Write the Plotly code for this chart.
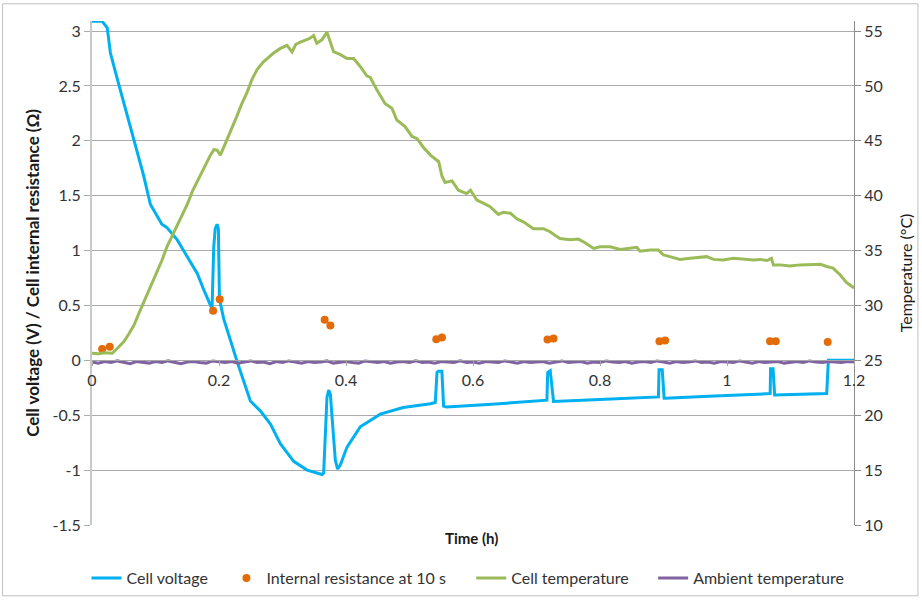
import plotly.graph_objects as go

# ---------------- data ----------------
volt_t = [0, 0.016, 0.024, 0.029, 0.040, 0.050, 0.065, 0.081, 0.092, 0.097,
          0.110, 0.118, 0.134, 0.150, 0.166, 0.1755, 0.189, 0.1917, 0.194, 0.197,
          0.199, 0.2007, 0.2074, 0.2285, 0.2494, 0.265, 0.281, 0.2966, 0.3176, 0.3387,
          0.3623, 0.3648, 0.3675, 0.370, 0.3727, 0.3754, 0.378, 0.3832, 0.3868, 0.391,
          0.4016, 0.4225, 0.454, 0.49, 0.533, 0.5406, 0.5433, 0.5453, 0.551, 0.5537,
          0.558, 0.63, 0.7164, 0.7176, 0.7216, 0.7255, 0.7268, 0.80, 0.892, 0.893,
          0.898, 0.901, 0.9026, 0.98, 1.068, 1.0686, 1.0725, 1.075, 1.0757, 1.157,
          1.1596, 1.2]
volt_v = [3.09, 3.09, 3.03, 2.80, 2.56, 2.35, 2.02, 1.69, 1.42, 1.37,
          1.24, 1.21, 1.10, 0.945, 0.79, 0.65, 0.47, 1.03, 1.20, 1.24,
          1.20, 0.56, 0.378, -0.01, -0.37, -0.46, -0.58, -0.76, -0.92, -1.00,
          -1.04, -1.026, -0.67, -0.34, -0.27, -0.31, -0.515, -0.91, -0.99, -0.954,
          -0.79, -0.605, -0.49, -0.43, -0.395, -0.384, -0.11, -0.10, -0.10, -0.417,
          -0.425, -0.40, -0.363, -0.11, -0.094, -0.363, -0.375, -0.357, -0.333, -0.085,
          -0.085, -0.345, -0.345, -0.325, -0.303, -0.076, -0.076, -0.315, -0.315, -0.303,
          0.0, 0.0]

res_t = [0.016, 0.028, 0.1907, 0.2011, 0.3664, 0.3754, 0.5422, 0.5511, 0.7173, 0.7268,
         0.8936, 0.9026, 1.0678, 1.0768, 1.1586]
res_v = [0.103, 0.124, 0.452, 0.557, 0.369, 0.318, 0.193, 0.208, 0.190, 0.199,
         0.175, 0.181, 0.175, 0.175, 0.168]

cell_t = [0, 0.010, 0.020, 0.032, 0.040, 0.050, 0.058, 0.066, 0.074, 0.0815,
          0.090, 0.1026, 0.110, 0.118, 0.126, 0.134, 0.142, 0.150, 0.158, 0.1656,
          0.176, 0.1865, 0.192, 0.197, 0.2022, 0.2075, 0.2128, 0.220, 0.2285, 0.236,
          0.244, 0.252, 0.26, 0.270, 0.278, 0.286, 0.296, 0.307, 0.315, 0.321,
          0.328, 0.336, 0.342, 0.349, 0.354, 0.362, 0.370, 0.3806, 0.390, 0.4016,
          0.412, 0.422, 0.433, 0.438, 0.449, 0.4614, 0.4725, 0.480, 0.493, 0.504,
          0.512, 0.522, 0.533, 0.546, 0.551, 0.556, 0.567, 0.577, 0.590, 0.596,
          0.606, 0.617, 0.627, 0.640, 0.648, 0.659, 0.669, 0.680, 0.695, 0.711,
          0.722, 0.729, 0.737, 0.753, 0.766, 0.777, 0.790, 0.800, 0.816, 0.832,
          0.847, 0.858, 0.863, 0.879, 0.892, 0.900, 0.910, 0.926, 0.942, 0.957,
          0.968, 0.979, 0.994, 1.010, 1.026, 1.042, 1.052, 1.063, 1.070, 1.073,
          1.084, 1.099, 1.115, 1.131, 1.147, 1.157, 1.167, 1.178, 1.188, 1.2]
cell_temp = [25.65, 25.6, 25.7, 25.65, 26.1, 26.7, 27.4, 28.2, 29.3, 30.3,
             31.4, 33.0, 34.1, 35.35, 36.3, 37.4, 38.3, 39.2, 40.4, 41.3,
             42.6, 43.7, 44.2, 44.15, 43.7, 44.4, 45.2, 46.2, 47.3, 48.4,
             49.4, 50.6, 51.5, 52.2, 52.6, 53.0, 53.4, 53.7, 53.1, 53.8,
             54.0, 54.2, 54.3, 54.6, 53.9, 54.2, 54.9, 53.1, 52.9, 52.5,
             52.5, 51.8, 50.9, 50.8, 49.6, 48.4, 47.95, 46.9, 46.3, 45.4,
             45.2, 44.4, 43.7, 43.1, 41.8, 41.2, 41.35, 40.5, 40.2, 40.5,
             39.6, 39.3, 39.0, 38.3, 38.5, 38.4, 37.9, 37.6, 37.0, 37.0,
             36.7, 36.4, 36.1, 36.0, 36.05, 35.7, 35.2, 35.35, 35.35, 35.1,
             35.25, 35.3, 34.95, 35.05, 35.05, 34.6, 34.45, 34.2, 34.3, 34.35,
             34.45, 34.2, 34.15, 34.3, 34.2, 34.15, 34.2, 34.1, 34.3, 33.7,
             33.7, 33.6, 33.7, 33.7, 33.75, 33.55, 33.4, 32.8, 32.1, 31.6]

amb_t = [0.00, 0.01, 0.02, 0.03, 0.04, 0.05, 0.06, 0.07, 0.08, 0.09,
         0.10, 0.11, 0.12, 0.13, 0.14, 0.15, 0.16, 0.17, 0.18, 0.19,
         0.20, 0.21, 0.22, 0.23, 0.24, 0.25, 0.26, 0.27, 0.28, 0.29,
         0.30, 0.31, 0.32, 0.33, 0.34, 0.35, 0.36, 0.37, 0.38, 0.39,
         0.40, 0.41, 0.42, 0.43, 0.44, 0.45, 0.46, 0.47, 0.48, 0.49,
         0.50, 0.51, 0.52, 0.53, 0.54, 0.55, 0.56, 0.57, 0.58, 0.59,
         0.60, 0.61, 0.62, 0.63, 0.64, 0.65, 0.66, 0.67, 0.68, 0.69,
         0.70, 0.71, 0.72, 0.73, 0.74, 0.75, 0.76, 0.77, 0.78, 0.79,
         0.80, 0.81, 0.82, 0.83, 0.84, 0.85, 0.86, 0.87, 0.88, 0.89,
         0.90, 0.91, 0.92, 0.93, 0.94, 0.95, 0.96, 0.97, 0.98, 0.99,
         1.00, 1.01, 1.02, 1.03, 1.04, 1.05, 1.06, 1.07, 1.08, 1.09,
         1.10, 1.11, 1.12, 1.13, 1.14, 1.15, 1.16, 1.17, 1.18, 1.19, 1.20]
amb_temp = [24.85, 24.75, 24.9, 24.8, 24.95, 24.8, 24.7, 24.9, 24.85, 24.75,
            24.9, 24.8, 24.95, 24.85, 24.7, 24.85, 24.9, 24.8, 24.75, 24.95,
            24.85, 24.8, 24.9, 24.75, 24.85, 24.95, 24.8, 24.85, 24.7, 24.9,
            24.8, 24.95, 24.85, 24.75, 24.9, 24.8, 24.85, 24.95, 24.75, 24.85,
            24.9, 24.8, 24.75, 24.95, 24.85, 24.8, 24.9, 24.75, 24.85, 24.9,
            24.8, 24.95, 24.8, 24.85, 24.75, 24.9, 24.85, 24.8, 24.95, 24.8,
            24.85, 24.75, 24.9, 24.85, 24.8, 24.95, 24.85, 24.75, 24.9, 24.8,
            24.85, 24.9, 24.75, 24.85, 24.95, 24.8, 24.85, 24.9, 24.75, 24.85,
            24.8, 24.95, 24.85, 24.8, 24.9, 24.75, 24.85, 24.9, 24.8, 24.95,
            24.85, 24.75, 24.9, 24.8, 24.85, 24.95, 24.8, 24.85, 24.75, 24.9,
            24.85, 24.8, 24.95, 24.85, 24.75, 24.9, 24.8, 24.85, 24.9, 24.75,
            24.85, 24.9, 24.8, 24.95, 24.85, 24.8, 24.9, 24.85, 24.8, 24.9, 24.85]

x_ticks = [0, 0.2, 0.4, 0.6, 0.8, 1.0, 1.2]
x_tick_labels = ["0", "0.2", "0.4", "0.6", "0.8", "1", "1.2"]
y_ticks = [-1.5, -1, -0.5, 0, 0.5, 1, 1.5, 2, 2.5, 3]
y_tick_labels = ["-1.5", "-1", "-0.5", "0", "0.5", "1", "1.5", "2", "2.5", "3"]
y2_ticks = [10, 15, 20, 25, 30, 35, 40, 45, 50, 55]

# ---------------- figure ----------------
FONT = "Lato"
W, H = 922, 607
ML, MR, MT, MB = 91.5, 68, 20.5, 74
pw = W - ML - MR
ph = H - MT - MB


def px_x(p):
    return (p - ML) / pw


def px_y(p):
    return (H - MB - p) / ph


fig = go.Figure()
fig.add_trace(go.Scatter(x=volt_t, y=volt_v, mode="lines", name="Cell voltage",
                         line=dict(color="#00B0F0", width=3), yaxis="y", legend="legend"))
fig.add_trace(go.Scatter(x=res_t, y=res_v, mode="markers", name="Internal resistance at 10 s",
                         marker=dict(color="#E36C09", size=8), yaxis="y", legend="legend2"))
fig.add_trace(go.Scatter(x=cell_t, y=cell_temp, mode="lines", name="Cell temperature",
                         line=dict(color="#9BBB59", width=3), yaxis="y2", legend="legend3"))
fig.add_trace(go.Scatter(x=amb_t, y=amb_temp, mode="lines", name="Ambient temperature",
                         line=dict(color="#8064A2", width=3), yaxis="y2", legend="legend4"))

ymin, ymax = -1.5, 3.092
zero_pos = (0 - ymin) / (ymax - ymin)


def leg(xpx):
    return dict(orientation="h", x=px_x(xpx), y=px_y(587), xanchor="left", yanchor="middle",
                font=dict(family=FONT, size=16, color="#333333"), itemwidth=30,
                bgcolor="rgba(0,0,0,0)", borderwidth=0)


fig.update_layout(
    width=W, height=H,
    margin=dict(l=ML, r=MR, t=MT, b=MB, pad=0),
    paper_bgcolor="white", plot_bgcolor="white",
    font=dict(family=FONT, size=16, color="#333333"),
    showlegend=True,
    legend=leg(86), legend2=leg(226), legend3=leg(471), legend4=leg(653),
    xaxis=dict(range=[0, 1.2], tickvals=x_ticks, ticktext=x_tick_labels,
               anchor="free", position=zero_pos, showgrid=False, zeroline=False,
               showline=True, linecolor="#A6A6A6", linewidth=1,
               ticks="outside", ticklen=5, tickcolor="#A6A6A6",
               tickfont=dict(family=FONT, size=16, color="#333333")),
    yaxis=dict(range=[ymin, ymax], tickvals=y_ticks, ticktext=y_tick_labels,
               showgrid=True, gridcolor="#ABABAB", gridwidth=1, zeroline=False,
               showline=True, linecolor="#C8C8C8", linewidth=2,
               ticks="outside", ticklen=6, tickcolor="#ABABAB",
               tickfont=dict(family=FONT, size=16, color="#333333")),
    yaxis2=dict(range=[25 + 10 * ymin, 25 + 10 * ymax], tickvals=y2_ticks,
                overlaying="y", side="right", anchor="x",
                showgrid=False, zeroline=False,
                showline=True, linecolor="#8C8C8C", linewidth=1,
                ticks="outside", ticklen=6, tickcolor="#8C8C8C",
                tickfont=dict(family=FONT, size=16, color="#333333")),
)

fig.add_annotation(text="<b>Cell voltage (V) / Cell internal resistance (Ω)</b>",
                   xref="paper", yref="paper", x=px_x(32), y=px_y(277),
                   textangle=-90, showarrow=False, xanchor="center", yanchor="middle",
                   font=dict(family=FONT, size=17, color="#1a1a1a"))
fig.add_annotation(text="Temperature (°C)",
                   xref="paper", yref="paper", x=px_x(905), y=px_y(276),
                   textangle=-90, showarrow=False, xanchor="center", yanchor="middle",
                   font=dict(family=FONT, size=16, color="#1a1a1a"))
fig.add_annotation(text="<b>Time (h)</b>",
                   xref="paper", yref="paper", x=px_x(471), y=px_y(546),
                   showarrow=False, xanchor="center", yanchor="middle",
                   font=dict(family=FONT, size=15, color="#1a1a1a"))

fig.add_shape(type="rect", xref="paper", yref="paper",
              x0=px_x(2), x1=px_x(918), y0=px_y(605), y1=px_y(3),
              line=dict(color="#BFBFBF", width=1), fillcolor="rgba(0,0,0,0)", layer="below")

fig.write_html("out.html")
